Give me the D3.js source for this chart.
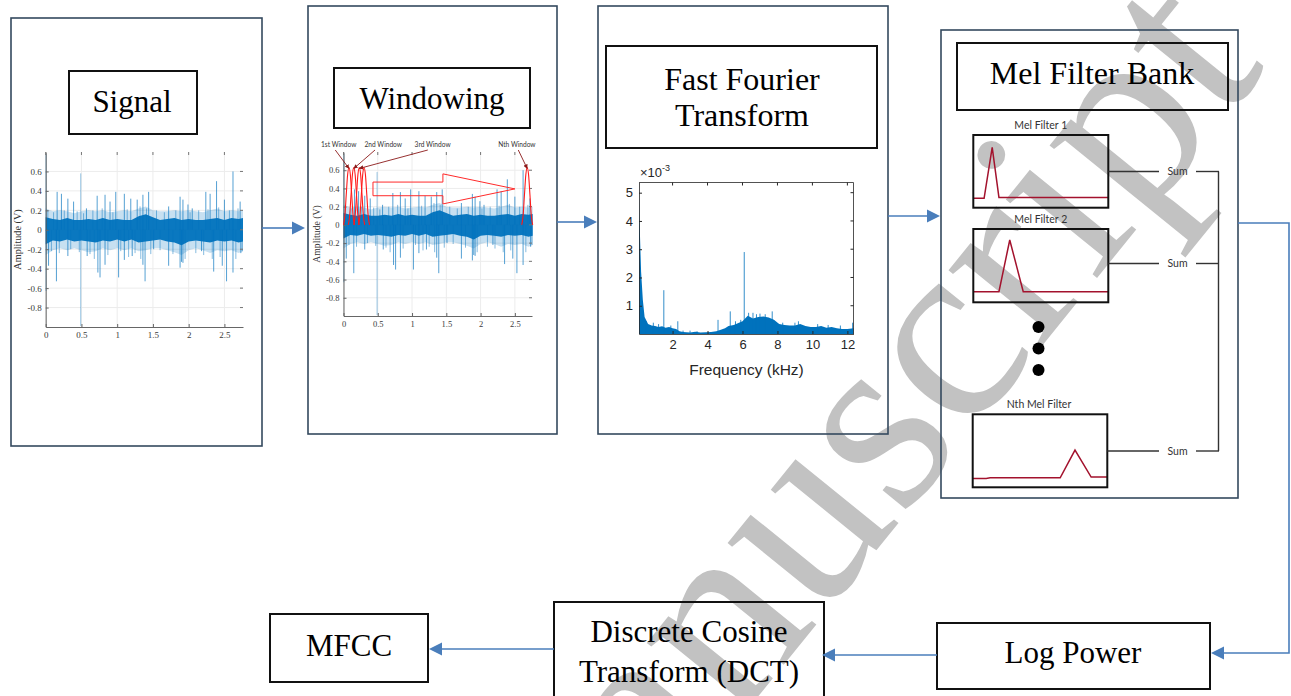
<!DOCTYPE html>
<html>
<head>
<meta charset="utf-8">
<script src="https://cdn.jsdelivr.net/npm/d3@7"></script>
<style>
  html, body { margin: 0; padding: 0; background: #fff; overflow: hidden; }
  svg text { font-kerning: normal; }
</style>
</head>
<body>
<svg id="fig" width="1291" height="696"></svg>
<script>
// ---------------- data ----------------
// Recorded vibration signal (seconds / volts)
const signalT   = [0,0.1,0.2,0.3,0.4,0.5,0.6,0.7,0.8,0.9,1.0,1.1,1.2,1.3,1.4,1.5,1.6,1.7,1.8,1.9,2.0,2.1,2.2,2.3,2.4,2.5,2.6,2.7,2.76];
const coreHi    = [0.13,0.11,0.10,0.12,0.10,0.10,0.11,0.10,0.12,0.10,0.11,0.10,0.10,0.14,0.16,0.13,0.10,0.11,0.12,0.10,0.11,0.10,0.10,0.11,0.12,0.10,0.12,0.11,0.12];
const coreLo    = [-0.15,-0.11,-0.12,-0.10,-0.12,-0.11,-0.12,-0.13,-0.11,-0.12,-0.10,-0.12,-0.10,-0.13,-0.12,-0.11,-0.10,-0.12,-0.13,-0.16,-0.12,-0.11,-0.12,-0.13,-0.11,-0.12,-0.11,-0.13,-0.12];
const fringeHi  = [0.22,0.19,0.20,0.19,0.17,0.19,0.20,0.19,0.20,0.18,0.19,0.20,0.19,0.22,0.24,0.20,0.19,0.19,0.20,0.19,0.20,0.19,0.18,0.20,0.22,0.19,0.20,0.19,0.20];
const fringeLo  = [-0.26,-0.21,-0.19,-0.21,-0.19,-0.21,-0.23,-0.22,-0.19,-0.21,-0.19,-0.21,-0.19,-0.22,-0.21,-0.19,-0.19,-0.21,-0.23,-0.26,-0.21,-0.19,-0.21,-0.24,-0.21,-0.22,-0.21,-0.24,-0.22];
// individual transients [time, peak amplitude]
const spikesUp  = [[0.16,0.39],[0.22,0.37],[0.31,0.32],[0.39,0.29],[0.57,0.22],[0.72,0.35],[0.83,0.36],[0.90,0.29],[0.98,0.39],[1.10,0.37],[1.19,0.32],[1.28,0.31],[1.36,0.36],[1.44,0.39],[1.72,0.24],[1.88,0.34],[1.92,0.31],[1.99,0.26],[2.05,0.22],[2.24,0.39],[2.30,0.37],[2.39,0.50],[2.50,0.31],[2.62,0.60],[2.72,0.29]];
const spikesDn  = [[0.04,-0.37],[0.15,-0.53],[0.31,-0.27],[0.58,-0.27],[0.73,-0.44],[0.76,-0.49],[0.83,-0.36],[1.02,-0.49],[1.10,-0.31],[1.21,-0.27],[1.36,-0.36],[1.39,-0.53],[1.51,-0.20],[1.72,-0.37],[1.88,-0.39],[1.90,-0.33],[1.92,-0.34],[2.18,-0.22],[2.35,-0.43],[2.47,-0.37],[2.53,-0.53],[2.62,-0.44],[2.73,-0.24]];
const spikesMid = [[0.03,0.2],[0.08,-0.22],[0.11,0.18],[0.19,-0.24],[0.26,0.2],[0.35,-0.2],[0.44,0.19],[0.47,-0.23],[0.53,0.17],[0.62,-0.25],[0.66,0.2],[0.68,-0.3],[0.79,0.22],[0.87,-0.26],[0.94,0.18],[1.05,-0.22],[1.14,0.21],[1.16,-0.28],[1.25,-0.24],[1.32,0.24],[1.33,-0.3],[1.41,0.22],[1.47,-0.25],[1.55,0.2],[1.6,-0.21],[1.66,0.18],[1.78,-0.25],[1.82,0.2],[1.95,-0.3],[2.02,0.18],[2.1,-0.24],[2.14,0.2],[2.21,-0.26],[2.27,0.21],[2.33,-0.3],[2.42,0.23],[2.44,-0.28],[2.57,0.2],[2.66,-0.3],[2.69,0.22],[2.75,-0.22]];
const spikesFull = [[0.005,-0.63,0.78],[0.49,-0.99,0.58]];

const ampTicks  = [-0.8,-0.6,-0.4,-0.2,0,0.2,0.4,0.6];
const timeTicks = [0,0.5,1,1.5,2,2.5];

// Analysis windows drawn over the signal
const windowShape  = [0,0.10,0.33,0.55,0.63,0.55,0.33,0.10,0];
const windowStarts = [0,0.07,0.15,0.22,2.6];
const windowWidth  = 0.16;
const windowLabels = ["1st Window","2nd Window","3rd Window","Nth Window"];
const windowLabelT = [-0.07,0.58,1.30,2.53];
const pointerFromT = [-0.12,0.46,1.23,2.55];
const pointerWin   = [0,1,2,4];
const bigArrow     = [[0.43,0.47],[1.45,0.47],[1.45,0.56],[2.5,0.395],[1.45,0.23],[1.45,0.32],[0.43,0.32]];

// Magnitude spectrum (kHz / x1e-3)
const fftEnvelope = [[0.08,5.3],[0.1,4.2],[0.15,3.2],[0.2,2.2],[0.3,1.2],[0.4,0.6],[0.6,0.35],[0.8,0.3],[1.0,0.28],[1.2,0.25],[1.4,0.27],[1.6,0.22],[1.8,0.25],[2.0,0.2],[2.2,0.18],[2.4,0.1],[2.6,0.07],[2.8,0.06],[3.0,0.05],[3.3,0.08],[3.6,0.05],[3.9,0.06],[4.2,0.07],[4.5,0.1],[4.8,0.16],[5.0,0.2],[5.2,0.28],[5.5,0.32],[5.8,0.4],[6.0,0.45],[6.3,0.65],[6.6,0.55],[6.9,0.6],[7.2,0.62],[7.5,0.58],[7.8,0.5],[8.1,0.35],[8.4,0.32],[8.7,0.3],[9.0,0.3],[9.3,0.35],[9.6,0.28],[9.9,0.25],[10.2,0.25],[10.5,0.28],[10.8,0.22],[11.1,0.25],[11.4,0.2],[11.7,0.18],[12.0,0.18],[12.35,0.2]];
const fftPeaks = [[0.5,0.45],[0.9,0.4],[1.2,0.35],[1.5,1.55],[1.9,0.3],[2.3,0.45],[2.6,0.12],[3.0,0.12],[3.4,0.1],[4.6,0.5],[5.3,0.8],[5.6,0.45],[5.9,0.5],[6.1,2.9],[6.35,0.75],[6.6,0.75],[6.8,0.7],[7.0,0.72],[7.3,0.7],[7.7,0.8],[8.3,0.4],[9.0,0.4],[9.2,0.45],[10.3,0.35],[10.9,0.32],[11.6,0.3],[12.3,0.4]];
const freqTicks = [2,4,6,8,10,12];
const magTicks  = [1,2,3,4,5];

// Triangular mel filters: [relative frequency, relative gain]
const melFilter1 = [[0,0.13],[0.08,0.13],[0.14,0.83],[0.19,0.14],[1,0.14]];
const melFilter2 = [[0,0.145],[0.19,0.145],[0.27,0.85],[0.37,0.145],[1,0.145]];
const melFilterN = [[0,0.12],[0.1,0.12],[0.13,0.13],[0.65,0.13],[0.76,0.51],[0.88,0.14],[1,0.14]];
const melLabels  = ["Mel Filter 1","Mel Filter 2","Nth Mel Filter"];

const stageLabels = {
  signal: ["Signal"], windowing: ["Windowing"], fft: ["Fast Fourier","Transform"],
  mel: ["Mel Filter Bank"], log: ["Log Power"], dct: ["Discrete Cosine","Transform (DCT)"], mfcc: ["MFCC"]
};
const watermarkText = "manuscript";

// ---------------- drawing ----------------
const svg = d3.select("#fig");
const BLUE = "#0072BD", FLOW = "#4a7ebb", FRAME = "#34495e", SERIF = "Liberation Serif, Times New Roman, serif";
const SANS = "Liberation Sans, Arial, sans-serif", LIGHT = "Lato, Open Sans, sans-serif";

// grey diagonal watermark, underneath everything
svg.append("text")
  .attr("transform", "translate(535,972) rotate(-51)")
  .attr("font-family", SERIF).attr("font-size", 262).attr("fill", "#c2c2c2")
  .text(watermarkText);

// stage frames
const frames = [[11,18,262,446],[308,6,557,434],[598,6,888,434],[941,30,1238,498]];
svg.selectAll("rect.frame").data(frames).join("rect").attr("class","frame")
  .attr("x", d => d[0]).attr("y", d => d[1]).attr("width", d => d[2]-d[0]).attr("height", d => d[3]-d[1])
  .attr("fill", "none").attr("stroke", FRAME).attr("stroke-width", 1.6);

// title boxes
function titleBox(box, lines, cx, baselines, size) {
  svg.append("rect").attr("x", box[0]).attr("y", box[1]).attr("width", box[2]-box[0]).attr("height", box[3]-box[1])
    .attr("fill", "none").attr("stroke", "#111").attr("stroke-width", 2);
  lines.forEach((t, i) => {
    svg.append("text").attr("x", cx).attr("y", baselines[i]).attr("text-anchor", "middle")
      .attr("font-family", SERIF).attr("font-size", size || 31).attr("fill", "#000").text(t);
  });
}
titleBox([69,71,197,134], stageLabels.signal, 132, [112]);
titleBox([334,68,530,128], stageLabels.windowing, 432, [108.5]);
titleBox([606,46,877,148], stageLabels.fft, 742, [90, 126], 32);
titleBox([957,43,1228,110], stageLabels.mel, 1092, [84], 32);
titleBox([270,614,428,682], stageLabels.mfcc, 349, [656], 31);
titleBox([554,602,824,702], stageLabels.dct, 689, [642, 682], 31);
titleBox([937,623,1210,689], stageLabels.log, 1073, [663], 31);

// ---------- time-domain panels ----------
function wavePanel(x, y, fs, labelX) {
  const g = svg.append("g");
  const [x0, x1] = x.range(), [yb, yt] = y.range();
  g.selectAll("line.gy").data(ampTicks).join("line")
    .attr("x1", x0).attr("x2", x1).attr("y1", d => y(d)).attr("y2", d => y(d)).attr("stroke", "#ececec");
  g.selectAll("line.gx").data(timeTicks).join("line")
    .attr("x1", d => x(d)).attr("x2", d => x(d)).attr("y1", yb).attr("y2", yt).attr("stroke", "#ececec");

  const band = (lo, hi) => d3.area().x(d => x(d)).y0((d, i) => y(lo[i])).y1((d, i) => y(hi[i]));
  g.append("path").datum(signalT).attr("d", band(fringeLo, fringeHi)).attr("fill", BLUE).attr("fill-opacity", 0.22);
  g.selectAll("line.sm").data(spikesMid).join("line")
    .attr("x1", d => x(d[0])).attr("x2", d => x(d[0])).attr("y1", y(0)).attr("y2", d => y(d[1]))
    .attr("stroke", BLUE).attr("stroke-width", 0.8).attr("stroke-opacity", 0.6);
  g.append("path").datum(signalT).attr("d", band(coreLo, coreHi)).attr("fill", BLUE).attr("fill-opacity", 0.95);
  g.selectAll("line.sp").data(spikesUp.concat(spikesDn)).join("line")
    .attr("x1", d => x(d[0])).attr("x2", d => x(d[0])).attr("y1", y(0)).attr("y2", d => y(d[1]))
    .attr("stroke", BLUE).attr("stroke-width", 0.9).attr("stroke-opacity", 0.75);
  g.selectAll("line.sf").data(spikesFull).join("line")
    .attr("x1", d => x(d[0])).attr("x2", d => x(d[0])).attr("y1", d => y(d[1])).attr("y2", d => y(d[2]))
    .attr("stroke", BLUE).attr("stroke-width", 0.9).attr("stroke-opacity", 0.45);

  const ax = g.append("g").attr("transform", `translate(${x0},0)`)
    .call(d3.axisLeft(y).tickValues(ampTicks).tickSizeInner(-3).tickSizeOuter(0).tickPadding(4).tickFormat(d => String(d)));
  const bx = g.append("g").attr("transform", `translate(0,${yb})`)
    .call(d3.axisBottom(x).tickValues(timeTicks).tickSizeInner(-3).tickSizeOuter(0).tickPadding(5).tickFormat(d => String(d)));
  [ax, bx].forEach(a => {
    a.select(".domain").attr("stroke", "#555").attr("stroke-width", 0.9);
    a.selectAll(".tick line").attr("stroke", "#666");
    a.selectAll("text").attr("font-family", SERIF).attr("font-size", fs).attr("fill", "#3a3a3a");
  });
  // ticks on the opposite sides
  g.selectAll("line.tt").data(timeTicks).join("line")
    .attr("x1", d => x(d)).attr("x2", d => x(d)).attr("y1", yt).attr("y2", yt + 3).attr("stroke", "#777");
  g.selectAll("line.tr").data(ampTicks).join("line")
    .attr("x1", x1).attr("x2", x1 - 3).attr("y1", d => y(d)).attr("y2", d => y(d)).attr("stroke", "#777");

  g.append("text").attr("transform", `translate(${labelX},${(yb + yt) / 2}) rotate(-90)`)
    .attr("text-anchor", "middle").attr("font-family", SERIF).attr("font-size", fs + 1.2).attr("fill", "#333")
    .text("Amplitude (V)");
  return g;
}

const xS = d3.scaleLinear().domain([0, 2.76]).range([45.7, 243]);
const yS = d3.scaleLinear().domain([-1, 0.8]).range([327, 152]);
wavePanel(xS, yS, 9, 21);

const xW = d3.scaleLinear().domain([0, 2.75]).range([343.5, 532]);
const yW = d3.scaleLinear().domain([-1, 0.8]).range([316, 152]);
const gW = wavePanel(xW, yW, 8.5, 320);

// analysis windows
const winLine = d3.line().curve(d3.curveMonotoneX);
windowStarts.forEach(s => {
  const pts = windowShape.map((v, i) => [xW(s + i / (windowShape.length - 1) * windowWidth), yW(v)]);
  gW.append("path").attr("d", winLine(pts)).attr("fill", "none").attr("stroke", "#ff1a1a").attr("stroke-width", 1.1);
});
gW.append("path").attr("d", d3.line()(bigArrow.map(p => [xW(p[0]), yW(p[1])])) + "Z")
  .attr("fill", "none").attr("stroke", "#ff2a2a").attr("stroke-width", 1);

const defs = svg.append("defs");
defs.append("marker").attr("id", "redhead").attr("viewBox", "0 0 10 10").attr("refX", 9).attr("refY", 5)
  .attr("markerWidth", 5).attr("markerHeight", 5).attr("orient", "auto")
  .append("path").attr("d", "M0,0L10,5L0,10Z").attr("fill", "#8b1a1a");
windowLabels.forEach((lab, i) => {
  const yTop = yW.range()[1];
  gW.append("text").attr("x", xW(windowLabelT[i])).attr("y", yTop - 5).attr("text-anchor", "middle")
    .attr("font-family", LIGHT).attr("font-size", 6.6).attr("fill", "#333").text(lab);
  const s = windowStarts[pointerWin[i]];
  gW.append("line").attr("x1", xW(pointerFromT[i])).attr("y1", yTop - 2)
    .attr("x2", xW(s + windowWidth / 2)).attr("y2", yW(0.63) + 1)
    .attr("stroke", "#8b1a1a").attr("stroke-width", 0.9).attr("marker-end", "url(#redhead)");
});

// ---------- spectrum panel ----------
const xF = d3.scaleLinear().domain([0.08, 12.35]).range([639, 853.5]);
const yF = d3.scaleLinear().domain([0, 5.36]).range([334, 182.5]);
const gF = svg.append("g");
gF.append("path").datum(fftEnvelope)
  .attr("d", d3.area().x(d => xF(d[0])).y0(yF(0)).y1(d => yF(d[1])))
  .attr("fill", BLUE);
gF.selectAll("line.pk").data(fftPeaks).join("line")
  .attr("x1", d => xF(d[0])).attr("x2", d => xF(d[0])).attr("y1", yF(0)).attr("y2", d => yF(d[1]))
  .attr("stroke", BLUE).attr("stroke-width", 1).attr("stroke-opacity", 0.8);
const fa = gF.append("g").attr("transform", `translate(${xF.range()[0]},0)`)
  .call(d3.axisLeft(yF).tickValues(magTicks).tickSizeInner(-3).tickSizeOuter(0).tickPadding(6).tickFormat(d => String(d)));
const fb = gF.append("g").attr("transform", `translate(0,${yF.range()[0]})`)
  .call(d3.axisBottom(xF).tickValues(freqTicks).tickSizeInner(-3).tickSizeOuter(0).tickPadding(6).tickFormat(d => String(d)));
[fa, fb].forEach(a => {
  a.select(".domain").attr("stroke", "#262626").attr("stroke-width", 0.8);
  a.selectAll(".tick line").attr("stroke", "#262626");
  a.selectAll("text").attr("font-family", SANS).attr("font-size", 13).attr("fill", "#262626");
});
gF.append("line").attr("x1", xF.range()[0]).attr("x2", xF.range()[1]).attr("y1", yF.range()[1]).attr("y2", yF.range()[1])
  .attr("stroke", "#262626").attr("stroke-width", 0.8);
gF.append("line").attr("x1", xF.range()[1]).attr("x2", xF.range()[1]).attr("y1", yF.range()[0]).attr("y2", yF.range()[1])
  .attr("stroke", "#262626").attr("stroke-width", 0.8);
gF.selectAll("line.ft").data(freqTicks).join("line")
  .attr("x1", d => xF(d)).attr("x2", d => xF(d)).attr("y1", yF.range()[1]).attr("y2", yF.range()[1] + 3).attr("stroke", "#262626");
gF.selectAll("line.fr").data(magTicks).join("line")
  .attr("x1", xF.range()[1]).attr("x2", xF.range()[1] - 3).attr("y1", d => yF(d)).attr("y2", d => yF(d)).attr("stroke", "#262626");
const ex = gF.append("text").attr("x", 640).attr("y", 177).attr("font-family", SANS).attr("font-size", 13).attr("fill", "#262626");
ex.append("tspan").text("\u00d710");
ex.append("tspan").attr("dy", -6).attr("font-size", 9).text("-3");
gF.append("text").attr("x", 746.5).attr("y", 375).attr("text-anchor", "middle")
  .attr("font-family", SANS).attr("font-size", 15.5).attr("fill", "#262626").text("Frequency (kHz)");

// ---------- mel filter bank ----------
const melBoxes = [[973.3,135,1108.3,207.7],[973.3,229,1108.3,302.3],[972.7,414.3,1107.3,487.3]];
const melShapes = [melFilter1, melFilter2, melFilterN];
const sumY = [171.5, 263.5, 451];
melBoxes.forEach((b, i) => {
  const fx = d3.scaleLinear().domain([0, 1]).range([b[0], b[2]]);
  const fy = d3.scaleLinear().domain([0, 1]).range([b[3], b[1]]);
  svg.append("path").attr("d", d3.line().x(d => fx(d[0])).y(d => fy(d[1]))(melShapes[i]))
    .attr("fill", "none").attr("stroke", "#a3122d").attr("stroke-width", 1.5);
  svg.append("rect").attr("x", b[0]).attr("y", b[1]).attr("width", b[2]-b[0]).attr("height", b[3]-b[1])
    .attr("fill", "none").attr("stroke", "#111").attr("stroke-width", 2);
  svg.append("text").attr("x", (b[0] + b[2]) / 2 + (i === 2 ? -1 : 0)).attr("y", b[1] - 6).attr("text-anchor", "middle")
    .attr("font-family", LIGHT).attr("font-size", 10.5).attr("fill", "#333").text(melLabels[i]);
  svg.append("line").attr("x1", b[2]).attr("x2", 1159).attr("y1", sumY[i]).attr("y2", sumY[i]).attr("stroke", "#333").attr("stroke-width", 1.4);
  svg.append("text").attr("x", 1177.5).attr("y", sumY[i] + 3.5).attr("text-anchor", "middle")
    .attr("font-family", LIGHT).attr("font-size", 10.5).attr("fill", "#333").text("Sum");
  svg.append("line").attr("x1", 1196).attr("x2", 1219).attr("y1", sumY[i]).attr("y2", sumY[i]).attr("stroke", "#333").attr("stroke-width", 1.4);
});
svg.append("line").attr("x1", 1218.5).attr("x2", 1218.5).attr("y1", sumY[0]).attr("y2", sumY[2]).attr("stroke", "#333").attr("stroke-width", 1.4);
svg.selectAll("circle.dot").data([327, 348.5, 370]).join("circle")
  .attr("cx", 1038.5).attr("cy", d => d).attr("r", 6).attr("fill", "#000");

// ---------- flow arrows ----------
function flow(points) {
  const n = points.length, [xa, ya] = points[n - 2], [xb, yb] = points[n - 1];
  const ang = Math.atan2(yb - ya, xb - xa), L = 13, W = 6.5;
  const bx = xb - L * Math.cos(ang), by = yb - L * Math.sin(ang);
  const shaft = points.slice(0, n - 1).concat([[bx, by]]);
  svg.append("path").attr("d", d3.line()(shaft)).attr("fill", "none").attr("stroke", FLOW).attr("stroke-width", 1.6);
  svg.append("path").attr("d", d3.line()([[xb, yb],
      [bx + W * Math.sin(ang), by - W * Math.cos(ang)],
      [bx - W * Math.sin(ang), by + W * Math.cos(ang)]]) + "Z").attr("fill", FLOW);
}
flow([[262, 228], [305, 228]]);
flow([[557, 222], [597, 222]]);
flow([[888, 216], [940, 216]]);
flow([[1238, 223], [1289, 223], [1289, 653], [1211, 653]]);
flow([[937, 655], [822, 655]]);
flow([[554, 649], [429, 649]]);
</script>
</body>
</html>
